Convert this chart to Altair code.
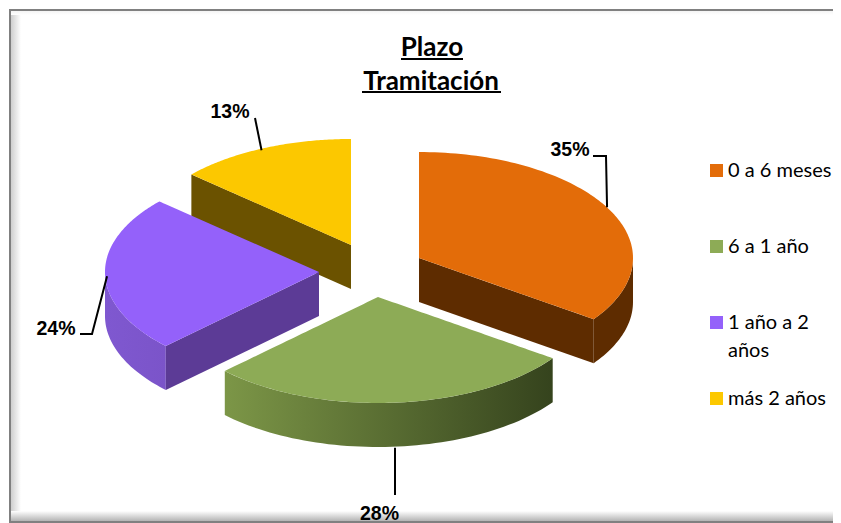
import numpy as np
import pandas as pd
import altair as alt

# ---- values
categories = ["0 a 6 meses", "6 a 1 año", "1 año a 2 años", "más 2 años"]
shares = [34.8, 27.9, 23.9, 13.4]
pct_labels = ["35%", "28%", "24%", "13%"]

# ---- pie geometry (ellipse projection of a tilted pie, exploded)
A, B, DEPTH = 214.0, 106.0, 44.0
apex = [(419, 258), (378, 297), (319, 272), (351, 245)]
top_colors = ["#E36C09", "#8DAB56", "#9461FA", "#FCC800"]
X0, X1, Y0, Y1 = 8, 833, 8, 523

x_scale = alt.Scale(domain=[X0, X1], nice=False, zero=False)
y_scale = alt.Scale(domain=[Y1, Y0], nice=False, zero=False)


def pt(i, deg):
    t = np.radians(deg)
    return apex[i][0] + A * np.sin(t), apex[i][1] - B * np.cos(t)


def sector_env(i, a0, a1):
    degs = np.linspace(a0, a1, 90)
    poly = [apex[i]] + [pt(i, d) for d in degs]
    n = len(poly)
    rows = []
    for x in sorted(set(round(p[0], 3) for p in poly)):
        ys = []
        for k in range(n):
            (xa, ya), (xb, yb) = poly[k], poly[(k + 1) % n]
            lo, hi = min(xa, xb), max(xa, xb)
            if lo - 0.002 <= x <= hi + 0.002:
                if abs(xb - xa) < 1e-6:
                    ys += [ya, yb]
                else:
                    ys.append(ya + (yb - ya) * (x - xa) / (xb - xa))
        rows.append({"x": x, "y": min(ys), "y2": max(ys)})
    return pd.DataFrame(rows)


def band(points):
    pts = sorted(points, key=lambda p: p[0])
    return pd.DataFrame(
        [{"x": p[0], "y": p[1], "y2": p[1] + DEPTH} for p in pts]
    )


def area(df, fill):
    return (
        alt.Chart(df)
        .mark_area(color=fill, orient="vertical", interpolate="linear")
        .encode(
            x=alt.X("x:Q", scale=x_scale, axis=None),
            y=alt.Y("y:Q", scale=y_scale, axis=None),
            y2="y2:Q",
        )
    )


def hgrad(c0, c1):
    return alt.Gradient(
        gradient="linear", x1=0, x2=1, y1=0, y2=0,
        stops=[alt.GradientStop(offset=0, color=c0), alt.GradientStop(offset=1, color=c1)],
    )


def vgrad(c0, c1):
    return alt.Gradient(
        gradient="linear", x1=0, x2=0, y1=0, y2=1,
        stops=[alt.GradientStop(offset=0, color=c0), alt.GradientStop(offset=1, color=c1)],
    )


def rect(x, x2, y, y2, fill):
    df = pd.DataFrame([{"x": x, "x2": x2, "y": y, "y2": y2}])
    return (
        alt.Chart(df)
        .mark_rect(color=fill)
        .encode(
            x=alt.X("x:Q", scale=x_scale, axis=None),
            x2="x2:Q",
            y=alt.Y("y:Q", scale=y_scale, axis=None),
            y2="y2:Q",
        )
    )


def polyline(points, width=2, color="#000000"):
    df = pd.DataFrame([{"x": p[0], "y": p[1], "o": k} for k, p in enumerate(points)])
    return (
        alt.Chart(df)
        .mark_line(color=color, strokeWidth=width)
        .encode(
            x=alt.X("x:Q", scale=x_scale, axis=None),
            y=alt.Y("y:Q", scale=y_scale, axis=None),
            order="o:Q",
        )
    )


def text(s, x, y, size, font, weight="normal", align="center"):
    df = pd.DataFrame([{"x": x, "y": y, "t": s}])
    return (
        alt.Chart(df)
        .mark_text(font=font, fontSize=size, fontWeight=weight, align=align,
                   baseline="middle", color="#000000")
        .encode(
            x=alt.X("x:Q", scale=x_scale, axis=None),
            y=alt.Y("y:Q", scale=y_scale, axis=None),
            text="t:N",
        )
    )


# slice angles from the shares
edges = np.cumsum([0] + [s * 3.6 for s in shares])
start = edges[:-1]
end = edges[1:]

layers = []

# frame
layers += [
    rect(11, 21, 10, 523, hgrad("#cfcfcf", "#ffffff")),
    rect(11, X1, 11, 15, vgrad("#f4f4f4", "#ffffff")),
    rect(11, X1, 511, 521, vgrad("#ffffff", "#b4b4b4")),
    rect(9, 11, 10, 523, "#808080"),
    rect(9, X1, 9, 11, "#808080"),
    rect(9, X1, 521, 523, "#808080"),
]

# yellow slice: cut face, top
i = 3
layers.append(area(band([apex[i], pt(i, start[i])]), "#6B5200"))
layers.append(area(sector_env(i, start[i], end[i]), top_colors[i]))

# purple slice: rim, cut face, top
i = 2
rim = [pt(i, d) for d in np.linspace(start[i], 270, 40)]
layers.append(area(band(rim), hgrad("#7F58D0", "#7B54C9")))
layers.append(area(band([apex[i], pt(i, start[i])]), "#5C3B96"))
layers.append(area(sector_env(i, start[i], end[i]), top_colors[i]))

# green slice: rim, top
i = 1
rim = [pt(i, d) for d in np.linspace(start[i], end[i], 60)]
layers.append(area(band(rim), hgrad("#7C9647", "#35431D")))
layers.append(area(sector_env(i, start[i], end[i]), top_colors[i]))

# orange slice: rim, cut face, top
i = 0
rim = [pt(i, d) for d in np.linspace(90, end[i], 30)]
layers.append(area(band(rim), "#5E2C00"))
layers.append(area(band([apex[i], pt(i, end[i])]), "#5E2C00"))
layers.append(area(sector_env(i, start[i], end[i]), top_colors[i]))

# leader lines, anchored on the rim at each slice's middle angle
mid = (start + end) / 2
a0 = pt(0, mid[0])
a1 = pt(1, mid[1])
a2 = pt(2, mid[2])
a3 = pt(3, mid[3])
layers += [
    polyline([(593, 156), (606, 156), (a0[0] - 2, a0[1] - 2)]),
    polyline([(395, a1[1] + DEPTH + 1), (395, 495)]),
    polyline([(80, 334), (92, 334), (a2[0] + 2, a2[1] + 2)]),
    polyline([(255, 118), (a3[0] - 2, a3[1] + 2)]),
]

# percentage labels
lab_font = "Liberation Sans"
layers += [
    text(pct_labels[0], 570, 150, 19.5, lab_font, "bold"),
    text(pct_labels[1], 379.5, 514, 19.5, lab_font, "bold"),
    text(pct_labels[2], 56, 329, 19.5, lab_font, "bold"),
    text(pct_labels[3], 230, 112, 19.5, lab_font, "bold"),
]

# title
layers += [
    text("Plazo", 432, 48, 26, "Lato", "bold"),
    text("Tramitación", 431, 82, 26, "Lato", "bold"),
    rect(401, 463, 58, 60, "#000000"),
    rect(362, 501, 91, 93, "#000000"),
]

# legend
leg_font = "Lato"
leg_y = [170.5, 246.5, 322.5, 398.5]
for k, yy in enumerate(leg_y):
    layers.append(rect(710, 723, yy - 6.5, yy + 6.5, top_colors[k]))
layers += [
    text(categories[0], 728, 171, 20, leg_font, align="left"),
    text(categories[1], 728, 247, 20, leg_font, align="left"),
    text("1 año a 2", 728, 323, 20, leg_font, align="left"),
    text("años", 728, 351, 20, leg_font, align="left"),
    text(categories[3], 728, 399, 20, leg_font, align="left"),
]

chart = (
    alt.layer(*layers)
    .properties(width=X1 - X0, height=Y1 - Y0, padding=0, background="#ffffff",
                autosize=alt.AutoSizeParams(type="none"))
    .configure_view(strokeWidth=0)
)
chart.save("out.html", embed_options={"renderer": "svg", "actions": False})
